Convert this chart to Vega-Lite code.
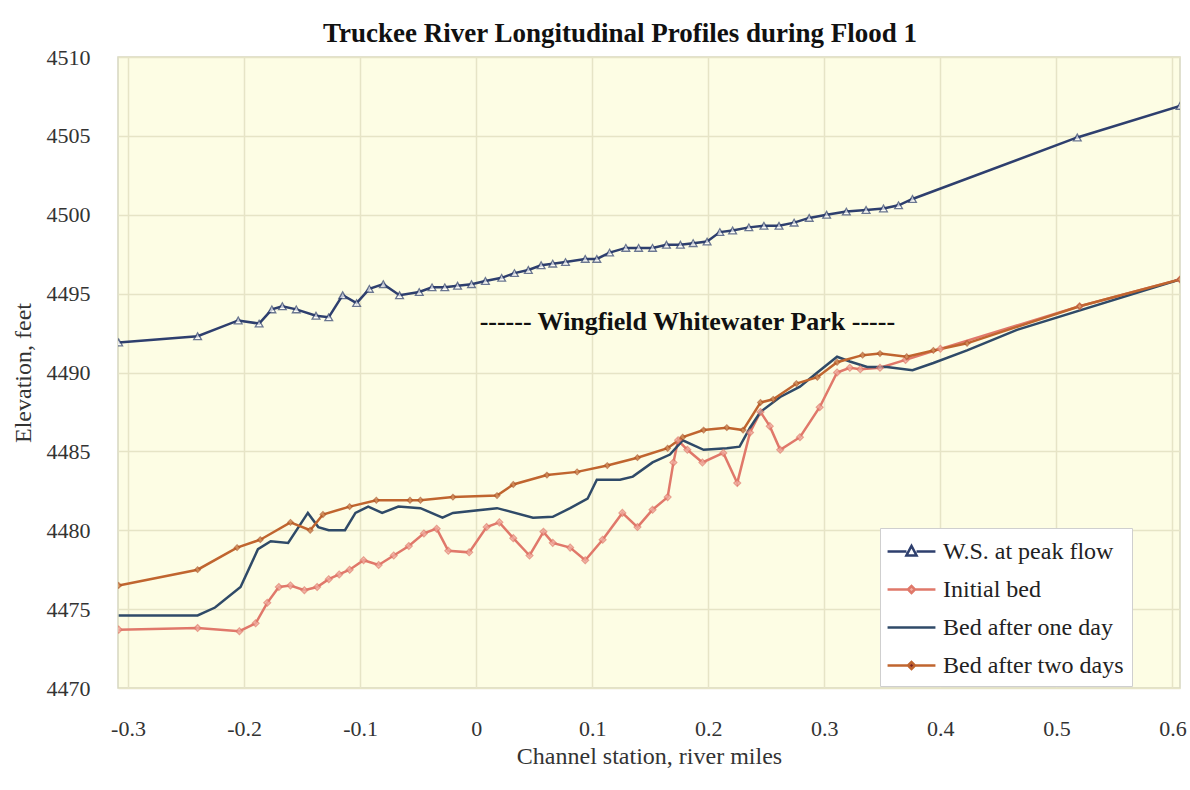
{
  "$schema": "https://vega.github.io/schema/vega-lite/v6.json",
  "autosize": {"type": "none"},
  "padding": {"left": 118, "top": 57, "right": 10, "bottom": 102},
  "width": 1062,
  "height": 631,
  "background": "#ffffff",
  "title": {
    "text": "Truckee River Longitudinal Profiles during Flood 1",
    "font": "Liberation Serif",
    "fontSize": 27,
    "fontWeight": "bold",
    "color": "#111111",
    "anchor": "middle",
    "dx": -29,
    "offset": 0,
    "dy": 2
  },
  "config": {
    "view": {"fill": "#fdfde4", "stroke": "#d6d6c0", "strokeWidth": 1.5},
    "axis": {
      "labelFont": "Liberation Serif",
      "labelFontSize": 22,
      "labelColor": "#333333",
      "titleFont": "Liberation Serif",
      "titleFontSize": 24,
      "titleFontWeight": "normal",
      "titleColor": "#333333",
      "gridColor": "#e6e4c6",
      "gridWidth": 1.5,
      "domain": false,
      "ticks": false
    }
  },
  "datasets": {
    "profiles": [
      {"series": "W.S. at peak flow", "x": -0.308, "y": 4491.9},
      {"series": "W.S. at peak flow", "x": -0.24, "y": 4492.3},
      {"series": "W.S. at peak flow", "x": -0.205, "y": 4493.3},
      {"series": "W.S. at peak flow", "x": -0.187, "y": 4493.1},
      {"series": "W.S. at peak flow", "x": -0.176, "y": 4494.0},
      {"series": "W.S. at peak flow", "x": -0.167, "y": 4494.2},
      {"series": "W.S. at peak flow", "x": -0.155, "y": 4494.0},
      {"series": "W.S. at peak flow", "x": -0.138, "y": 4493.6},
      {"series": "W.S. at peak flow", "x": -0.127, "y": 4493.5},
      {"series": "W.S. at peak flow", "x": -0.115, "y": 4494.9},
      {"series": "W.S. at peak flow", "x": -0.103, "y": 4494.4},
      {"series": "W.S. at peak flow", "x": -0.092, "y": 4495.3},
      {"series": "W.S. at peak flow", "x": -0.08, "y": 4495.6},
      {"series": "W.S. at peak flow", "x": -0.066, "y": 4494.9},
      {"series": "W.S. at peak flow", "x": -0.049, "y": 4495.1},
      {"series": "W.S. at peak flow", "x": -0.038, "y": 4495.4},
      {"series": "W.S. at peak flow", "x": -0.027, "y": 4495.4},
      {"series": "W.S. at peak flow", "x": -0.016, "y": 4495.5},
      {"series": "W.S. at peak flow", "x": -0.004, "y": 4495.6},
      {"series": "W.S. at peak flow", "x": 0.008, "y": 4495.8},
      {"series": "W.S. at peak flow", "x": 0.022, "y": 4496.0},
      {"series": "W.S. at peak flow", "x": 0.033, "y": 4496.3},
      {"series": "W.S. at peak flow", "x": 0.045, "y": 4496.5},
      {"series": "W.S. at peak flow", "x": 0.056, "y": 4496.8},
      {"series": "W.S. at peak flow", "x": 0.066, "y": 4496.9},
      {"series": "W.S. at peak flow", "x": 0.077, "y": 4497.0},
      {"series": "W.S. at peak flow", "x": 0.094, "y": 4497.2},
      {"series": "W.S. at peak flow", "x": 0.104, "y": 4497.2},
      {"series": "W.S. at peak flow", "x": 0.115, "y": 4497.6},
      {"series": "W.S. at peak flow", "x": 0.129, "y": 4497.9},
      {"series": "W.S. at peak flow", "x": 0.14, "y": 4497.9},
      {"series": "W.S. at peak flow", "x": 0.152, "y": 4497.9},
      {"series": "W.S. at peak flow", "x": 0.164, "y": 4498.1},
      {"series": "W.S. at peak flow", "x": 0.176, "y": 4498.1},
      {"series": "W.S. at peak flow", "x": 0.187, "y": 4498.2},
      {"series": "W.S. at peak flow", "x": 0.199, "y": 4498.3},
      {"series": "W.S. at peak flow", "x": 0.21, "y": 4498.9},
      {"series": "W.S. at peak flow", "x": 0.221, "y": 4499.0},
      {"series": "W.S. at peak flow", "x": 0.235, "y": 4499.2},
      {"series": "W.S. at peak flow", "x": 0.248, "y": 4499.3},
      {"series": "W.S. at peak flow", "x": 0.261, "y": 4499.3},
      {"series": "W.S. at peak flow", "x": 0.274, "y": 4499.5},
      {"series": "W.S. at peak flow", "x": 0.287, "y": 4499.8},
      {"series": "W.S. at peak flow", "x": 0.302, "y": 4500.0},
      {"series": "W.S. at peak flow", "x": 0.319, "y": 4500.2},
      {"series": "W.S. at peak flow", "x": 0.336, "y": 4500.3},
      {"series": "W.S. at peak flow", "x": 0.351, "y": 4500.4},
      {"series": "W.S. at peak flow", "x": 0.364, "y": 4500.6},
      {"series": "W.S. at peak flow", "x": 0.376, "y": 4501.0},
      {"series": "W.S. at peak flow", "x": 0.518, "y": 4504.9},
      {"series": "W.S. at peak flow", "x": 0.6065, "y": 4506.9},

      {"series": "Initial bed", "x": -0.308, "y": 4473.7},
      {"series": "Initial bed", "x": -0.24, "y": 4473.8},
      {"series": "Initial bed", "x": -0.204, "y": 4473.6},
      {"series": "Initial bed", "x": -0.19, "y": 4474.1},
      {"series": "Initial bed", "x": -0.18, "y": 4475.4},
      {"series": "Initial bed", "x": -0.17, "y": 4476.4},
      {"series": "Initial bed", "x": -0.16, "y": 4476.5},
      {"series": "Initial bed", "x": -0.148, "y": 4476.2},
      {"series": "Initial bed", "x": -0.137, "y": 4476.4},
      {"series": "Initial bed", "x": -0.127, "y": 4476.9},
      {"series": "Initial bed", "x": -0.118, "y": 4477.2},
      {"series": "Initial bed", "x": -0.109, "y": 4477.5},
      {"series": "Initial bed", "x": -0.097, "y": 4478.1},
      {"series": "Initial bed", "x": -0.084, "y": 4477.8},
      {"series": "Initial bed", "x": -0.071, "y": 4478.4},
      {"series": "Initial bed", "x": -0.058, "y": 4479.0},
      {"series": "Initial bed", "x": -0.045, "y": 4479.8},
      {"series": "Initial bed", "x": -0.034, "y": 4480.1},
      {"series": "Initial bed", "x": -0.024, "y": 4478.7},
      {"series": "Initial bed", "x": -0.006, "y": 4478.6},
      {"series": "Initial bed", "x": 0.009, "y": 4480.2},
      {"series": "Initial bed", "x": 0.02, "y": 4480.5},
      {"series": "Initial bed", "x": 0.032, "y": 4479.5},
      {"series": "Initial bed", "x": 0.046, "y": 4478.4},
      {"series": "Initial bed", "x": 0.058, "y": 4479.9},
      {"series": "Initial bed", "x": 0.066, "y": 4479.2},
      {"series": "Initial bed", "x": 0.081, "y": 4478.9},
      {"series": "Initial bed", "x": 0.094, "y": 4478.1},
      {"series": "Initial bed", "x": 0.109, "y": 4479.4},
      {"series": "Initial bed", "x": 0.126, "y": 4481.1},
      {"series": "Initial bed", "x": 0.139, "y": 4480.2},
      {"series": "Initial bed", "x": 0.152, "y": 4481.3},
      {"series": "Initial bed", "x": 0.165, "y": 4482.1},
      {"series": "Initial bed", "x": 0.17, "y": 4484.3},
      {"series": "Initial bed", "x": 0.174, "y": 4485.7},
      {"series": "Initial bed", "x": 0.182, "y": 4485.1},
      {"series": "Initial bed", "x": 0.195, "y": 4484.3},
      {"series": "Initial bed", "x": 0.213, "y": 4484.9},
      {"series": "Initial bed", "x": 0.225, "y": 4483.0},
      {"series": "Initial bed", "x": 0.236, "y": 4486.2},
      {"series": "Initial bed", "x": 0.245, "y": 4487.5},
      {"series": "Initial bed", "x": 0.253, "y": 4486.6},
      {"series": "Initial bed", "x": 0.262, "y": 4485.1},
      {"series": "Initial bed", "x": 0.279, "y": 4485.9},
      {"series": "Initial bed", "x": 0.296, "y": 4487.8},
      {"series": "Initial bed", "x": 0.311, "y": 4490.0},
      {"series": "Initial bed", "x": 0.322, "y": 4490.3},
      {"series": "Initial bed", "x": 0.331, "y": 4490.2},
      {"series": "Initial bed", "x": 0.348, "y": 4490.3},
      {"series": "Initial bed", "x": 0.37, "y": 4490.8},
      {"series": "Initial bed", "x": 0.4, "y": 4491.5},
      {"series": "Initial bed", "x": 0.52, "y": 4494.2},
      {"series": "Initial bed", "x": 0.6065, "y": 4495.9},

      {"series": "Bed after one day", "x": -0.308, "y": 4474.6},
      {"series": "Bed after one day", "x": -0.24, "y": 4474.6},
      {"series": "Bed after one day", "x": -0.225, "y": 4475.1},
      {"series": "Bed after one day", "x": -0.203, "y": 4476.4},
      {"series": "Bed after one day", "x": -0.188, "y": 4478.8},
      {"series": "Bed after one day", "x": -0.177, "y": 4479.3},
      {"series": "Bed after one day", "x": -0.162, "y": 4479.2},
      {"series": "Bed after one day", "x": -0.145, "y": 4481.1},
      {"series": "Bed after one day", "x": -0.136, "y": 4480.2},
      {"series": "Bed after one day", "x": -0.127, "y": 4480.0},
      {"series": "Bed after one day", "x": -0.113, "y": 4480.0},
      {"series": "Bed after one day", "x": -0.104, "y": 4481.1},
      {"series": "Bed after one day", "x": -0.093, "y": 4481.5},
      {"series": "Bed after one day", "x": -0.081, "y": 4481.1},
      {"series": "Bed after one day", "x": -0.067, "y": 4481.5},
      {"series": "Bed after one day", "x": -0.048, "y": 4481.4},
      {"series": "Bed after one day", "x": -0.029, "y": 4480.8},
      {"series": "Bed after one day", "x": -0.02, "y": 4481.1},
      {"series": "Bed after one day", "x": 0.018, "y": 4481.4},
      {"series": "Bed after one day", "x": 0.049, "y": 4480.8},
      {"series": "Bed after one day", "x": 0.066, "y": 4480.85},
      {"series": "Bed after one day", "x": 0.081, "y": 4481.4},
      {"series": "Bed after one day", "x": 0.096, "y": 4482.0},
      {"series": "Bed after one day", "x": 0.104, "y": 4483.2},
      {"series": "Bed after one day", "x": 0.124, "y": 4483.2},
      {"series": "Bed after one day", "x": 0.135, "y": 4483.4},
      {"series": "Bed after one day", "x": 0.152, "y": 4484.3},
      {"series": "Bed after one day", "x": 0.167, "y": 4484.8},
      {"series": "Bed after one day", "x": 0.178, "y": 4485.7},
      {"series": "Bed after one day", "x": 0.196, "y": 4485.1},
      {"series": "Bed after one day", "x": 0.216, "y": 4485.2},
      {"series": "Bed after one day", "x": 0.227, "y": 4485.3},
      {"series": "Bed after one day", "x": 0.236, "y": 4486.5},
      {"series": "Bed after one day", "x": 0.245, "y": 4487.5},
      {"series": "Bed after one day", "x": 0.262, "y": 4488.45},
      {"series": "Bed after one day", "x": 0.279, "y": 4489.1},
      {"series": "Bed after one day", "x": 0.294, "y": 4490.0},
      {"series": "Bed after one day", "x": 0.311, "y": 4491.0},
      {"series": "Bed after one day", "x": 0.322, "y": 4490.7},
      {"series": "Bed after one day", "x": 0.337, "y": 4490.35},
      {"series": "Bed after one day", "x": 0.354, "y": 4490.35},
      {"series": "Bed after one day", "x": 0.376, "y": 4490.15},
      {"series": "Bed after one day", "x": 0.394, "y": 4490.6},
      {"series": "Bed after one day", "x": 0.423, "y": 4491.4},
      {"series": "Bed after one day", "x": 0.466, "y": 4492.7},
      {"series": "Bed after one day", "x": 0.6065, "y": 4495.9},

      {"series": "Bed after two days", "x": -0.308, "y": 4476.5},
      {"series": "Bed after two days", "x": -0.24, "y": 4477.5},
      {"series": "Bed after two days", "x": -0.206, "y": 4478.9},
      {"series": "Bed after two days", "x": -0.186, "y": 4479.4},
      {"series": "Bed after two days", "x": -0.16, "y": 4480.5},
      {"series": "Bed after two days", "x": -0.143, "y": 4480.0},
      {"series": "Bed after two days", "x": -0.132, "y": 4481.0},
      {"series": "Bed after two days", "x": -0.109, "y": 4481.5},
      {"series": "Bed after two days", "x": -0.086, "y": 4481.9},
      {"series": "Bed after two days", "x": -0.057, "y": 4481.9},
      {"series": "Bed after two days", "x": -0.048, "y": 4481.9},
      {"series": "Bed after two days", "x": -0.02, "y": 4482.1},
      {"series": "Bed after two days", "x": 0.018, "y": 4482.2},
      {"series": "Bed after two days", "x": 0.032, "y": 4482.9},
      {"series": "Bed after two days", "x": 0.061, "y": 4483.5},
      {"series": "Bed after two days", "x": 0.087, "y": 4483.7},
      {"series": "Bed after two days", "x": 0.113, "y": 4484.1},
      {"series": "Bed after two days", "x": 0.139, "y": 4484.6},
      {"series": "Bed after two days", "x": 0.165, "y": 4485.2},
      {"series": "Bed after two days", "x": 0.178, "y": 4485.9},
      {"series": "Bed after two days", "x": 0.196, "y": 4486.35},
      {"series": "Bed after two days", "x": 0.216, "y": 4486.5},
      {"series": "Bed after two days", "x": 0.23, "y": 4486.35},
      {"series": "Bed after two days", "x": 0.245, "y": 4488.1},
      {"series": "Bed after two days", "x": 0.256, "y": 4488.3},
      {"series": "Bed after two days", "x": 0.276, "y": 4489.3},
      {"series": "Bed after two days", "x": 0.294, "y": 4489.7},
      {"series": "Bed after two days", "x": 0.311, "y": 4490.65},
      {"series": "Bed after two days", "x": 0.333, "y": 4491.1},
      {"series": "Bed after two days", "x": 0.348, "y": 4491.2},
      {"series": "Bed after two days", "x": 0.371, "y": 4491.0},
      {"series": "Bed after two days", "x": 0.394, "y": 4491.4},
      {"series": "Bed after two days", "x": 0.423, "y": 4491.85},
      {"series": "Bed after two days", "x": 0.52, "y": 4494.2},
      {"series": "Bed after two days", "x": 0.6065, "y": 4495.9}
    ],
    "notes": [
      {"label": "------ Wingfield Whitewater Park -----", "x": 0.182, "y": 4493.2}
    ]
  },
  "layer": [
    {
      "data": {"name": "profiles"},
      "mark": {"type": "line", "strokeWidth": 2.5, "clip": true},
      "encoding": {
        "x": {
          "field": "x", "type": "quantitative",
          "scale": {"domain": [-0.3086, 0.6065], "nice": false, "zero": false},
          "axis": {
            "title": "Channel station, river miles",
            "values": [-0.3, -0.2, -0.1, 0, 0.1, 0.2, 0.3, 0.4, 0.5, 0.6],
            "labelExpr": "datum.value == 0 ? '0' : (datum.value < 0 ? '-' + format(-datum.value, '.1f') : format(datum.value, '.1f'))",
            "labelPadding": 30,
            "titlePadding": 5
          }
        },
        "y": {
          "field": "y", "type": "quantitative",
          "scale": {"domain": [4470, 4510], "nice": false, "zero": false},
          "axis": {
            "title": "Elevation, feet",
            "values": [4470, 4475, 4480, 4485, 4490, 4495, 4500, 4505, 4510],
            "format": "d",
            "labelPadding": 28,
            "titlePadding": 11
          }
        },
        "color": {
          "field": "series", "type": "nominal",
          "scale": {
            "domain": ["W.S. at peak flow", "Initial bed", "Bed after one day", "Bed after two days"],
            "range": ["#2e3f6e", "#e0786a", "#2f4a68", "#c0652f"]
          },
          "legend": {
            "title": null,
            "orient": "none",
            "legendX": 762,
            "legendY": 471,
            "fillColor": "#ffffff",
            "strokeColor": "#cfcfcf",
            "padding": 8,
            "labelFont": "Liberation Serif",
            "labelFontSize": 24,
            "labelColor": "#222222",
            "labelLimit": 400,
            "labelOffset": 16,
            "rowPadding": 10,
            "symbolOffset": 8,
            "symbolSize": 784,
            "symbolStrokeWidth": 2.5,
            "encode": {
              "symbols": {
                "update": {
                  "shape": {"signal": "datum.value === 'W.S. at peak flow' ? 'M-1.71,0H-0.36M0.36,0H1.71M-0.36,0.28L0,-0.4L0.36,0.28Z' : (datum.value === 'Bed after one day' ? 'M-1.71,0H1.71' : 'M-1.71,0H-0.25M0.25,0H1.71M-0.25,0L0,-0.25L0.25,0L0,0.25Z')"},
                  "fill": {"signal": "datum.value === 'W.S. at peak flow' ? '#ffffff' : (datum.value === 'Initial bed' ? '#f3b0a4' : (datum.value === 'Bed after two days' ? '#7e2323' : 'transparent'))"}
                }
              }
            }
          }
        }
      }
    },
    {
      "data": {"name": "profiles"},
      "transform": [{"filter": "datum.series !== 'Bed after one day'"}],
      "mark": {"type": "point", "filled": true, "strokeWidth": 1.3, "clip": true},
      "encoding": {
        "x": {"field": "x", "type": "quantitative"},
        "y": {"field": "y", "type": "quantitative"},
        "shape": {
          "field": "series", "type": "nominal",
          "scale": {"domain": ["W.S. at peak flow", "Initial bed", "Bed after two days"], "range": ["triangle-up", "diamond", "diamond"]},
          "legend": null
        },
        "size": {
          "field": "series", "type": "nominal",
          "scale": {"domain": ["W.S. at peak flow", "Initial bed", "Bed after two days"], "range": [60, 30, 40]},
          "legend": null
        },
        "fill": {
          "field": "series", "type": "nominal",
          "scale": {"domain": ["W.S. at peak flow", "Initial bed", "Bed after two days"], "range": ["#ffffff", "#f3b0a4", "#d99a62"]},
          "legend": null
        },
        "stroke": {
          "field": "series", "type": "nominal",
          "scale": {"domain": ["W.S. at peak flow", "Initial bed", "Bed after two days"], "range": ["#2e3f6e", "#e0786a", "#b0582a"]},
          "legend": null
        }
      }
    },
    {
      "data": {"name": "notes"},
      "mark": {"type": "text", "font": "Liberation Serif", "fontSize": 26, "fontWeight": "bold", "color": "#111111", "baseline": "middle", "align": "center"},
      "encoding": {
        "x": {"field": "x", "type": "quantitative"},
        "y": {"field": "y", "type": "quantitative"},
        "text": {"field": "label"}
      }
    }
  ]
}
